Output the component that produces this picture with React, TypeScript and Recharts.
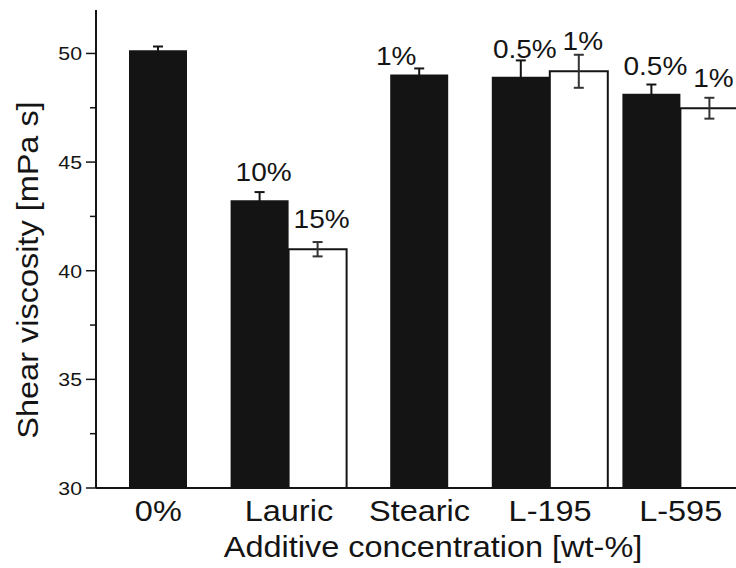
import { BarChart, Bar, XAxis, YAxis, ErrorBar, LabelList } from 'recharts';

const categories = ['0%', 'Lauric', 'Stearic', 'L-195', 'L-595'];

// bars standing alone in their category (no second concentration)
const singleValues = [50.15, null, 49.03, null, null];
const singleErrors = [0.17, null, 0.28, null, null];
const singleLabels = ['', '', '1%', '', ''];

// paired bars: black = lower concentration, white = higher one
const blackValues = [null, 43.24, null, 48.93, 48.14];
const blackErrors = [null, 0.38, null, 0.75, 0.43];
const blackLabels = ['', '10%', '', '0.5%', '0.5%'];

const whiteValues = [null, 40.99, null, 49.18, 47.48];
const whiteErrors = [null, 0.33, null, 0.76, 0.48];
const whiteLabels = ['', '15%', '', '1%', '1%'];

const yTicks = [30, 32.5, 35, 37.5, 40, 42.5, 45, 47.5, 50];

const data = categories.map((cat, i) => ({
  cat,
  single: singleValues[i],
  singleErr: singleErrors[i],
  singleLabel: singleLabels[i],
  black: blackValues[i],
  blackErr: blackErrors[i],
  blackLabel: blackLabels[i],
  white: whiteValues[i],
  whiteErr: whiteErrors[i],
  whiteLabel: whiteLabels[i],
}));

const FONT = '"Liberation Sans", Arial, sans-serif';
const INK = '#141414';
const STRETCH = 1.12; // the original lettering is a bit wider than Arial

// text drawn at (x, y) and stretched horizontally around its anchor
function Wide({ x, y, size, anchor = 'middle', rotate = 0, children }: any) {
  return (
    <text
      x={0}
      y={0}
      transform={`translate(${x},${y}) rotate(${rotate}) scale(${STRETCH},1)`}
      textAnchor={anchor}
      fontSize={size}
      fontFamily={FONT}
      fill={INK}
    >
      {children}
    </text>
  );
}

function YTick(props: any) {
  const { x, y, payload } = props;
  const major = payload.value % 5 === 0;
  return (
    <g>
      <line x1={x} x2={x - (major ? 10 : 6)} y1={y} y2={y} stroke={INK} strokeWidth={1.5} />
      {major && (
        <Wide x={x - 14} y={y + 7} size={19} anchor="end">
          {payload.value}
        </Wide>
      )}
    </g>
  );
}

function XTick(props: any) {
  const { x, y, payload } = props;
  return (
    <Wide x={x} y={y + 33} size={29}>
      {payload.value}
    </Wide>
  );
}

function barLabel(off: number, dx: number) {
  return (p: any) => {
    if (!p.value) return null;
    return (
      <Wide x={p.x + p.width / 2 + dx} y={p.y - off} size={25}>
        {p.value}
      </Wide>
    );
  };
}

export default function App() {
  return (
    <div style={{ position: 'absolute', left: 0, top: 0, background: '#fff' }}>
      <BarChart
        width={736}
        height={568}
        data={data}
        margin={{ top: 10, right: 0, bottom: 0, left: 0 }}
        barGap={0}
        barSize={58}
      >
        <XAxis
          xAxisId="pair"
          dataKey="cat"
          height={80}
          padding={{ left: -3, right: -10 }}
          axisLine={{ stroke: INK, strokeWidth: 2 }}
          tickLine={false}
          tickSize={0}
          tickMargin={0}
          tick={<XTick />}
          interval={0}
          label={() => (
            <Wide x={433} y={557} size={29}>
              Additive concentration [wt-%]
            </Wide>
          )}
        />
        <XAxis xAxisId="single" dataKey="cat" hide padding={{ left: -3, right: -10 }} />
        <YAxis
          width={96}
          domain={[30, 52]}
          ticks={yTicks}
          interval={0}
          allowDataOverflow
          axisLine={{ stroke: INK, strokeWidth: 2 }}
          tickLine={false}
          tickSize={0}
          tickMargin={0}
          tick={<YTick />}
          label={() => (
            <Wide x={38} y={270} size={29} rotate={-90}>
              Shear viscosity [mPa s]
            </Wide>
          )}
        />
        <Bar xAxisId="single" dataKey="single" fill={INK} isAnimationActive={false}>
          <ErrorBar dataKey="singleErr" width={5} stroke={INK} strokeWidth={2} />
          <LabelList dataKey="singleLabel" content={barLabel(10, -23)} />
        </Bar>
        <Bar xAxisId="pair" dataKey="black" fill={INK} isAnimationActive={false}>
          <ErrorBar dataKey="blackErr" width={5} stroke={INK} strokeWidth={2} />
          <LabelList dataKey="blackLabel" content={barLabel(19, 4)} />
        </Bar>
        <Bar xAxisId="pair" dataKey="white" fill="#fff" stroke={INK} strokeWidth={2} isAnimationActive={false}>
          <ErrorBar dataKey="whiteErr" width={5} stroke="#333" strokeWidth={2} />
          <LabelList dataKey="whiteLabel" content={barLabel(21, 4)} />
        </Bar>
      </BarChart>
    </div>
  );
}
